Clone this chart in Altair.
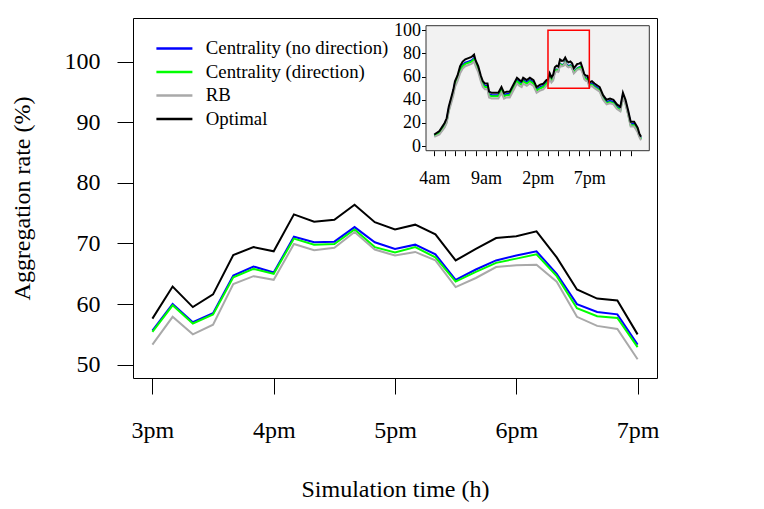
import altair as alt
import pandas as pd

FONT = "Liberation Serif"

# ---------------- data ----------------
series_names = ["Centrality (no direction)", "Centrality (direction)", "RB", "Optimal"]
series_colors = ["#0000FF", "#00FF00", "#A9A9A9", "#000000"]

# main panel: 3pm -> 7pm, every 10 minutes (minutes after 3pm)
main_minutes = [0, 10, 20, 30, 40, 50, 60, 70, 80, 90, 100, 110, 120,
                130, 140, 150, 160, 170, 180, 190, 200, 210, 220, 230, 240]
main_tick_minutes = [0, 60, 120, 180, 240]
main_tick_labels = ["3pm", "4pm", "5pm", "6pm", "7pm"]

main_no_dir = [55.6, 60.0, 57.0, 58.5, 64.7, 66.2, 65.2, 71.1, 70.2, 70.3, 72.7, 70.2, 69.1,
               69.8, 68.2, 64.0, 65.7, 67.2, 68.0, 68.7, 65.0, 60.0, 58.7, 58.3, 53.3]
main_dir = [55.4, 59.8, 56.8, 58.3, 64.4, 65.8, 65.0, 70.8, 69.8, 69.9, 72.3, 69.4, 68.5,
            69.4, 67.7, 63.7, 65.3, 66.8, 67.5, 68.2, 64.6, 59.3, 58.0, 57.7, 52.9]
main_rb = [53.3, 57.9, 55.0, 56.6, 63.3, 64.6, 64.0, 69.9, 68.9, 69.3, 71.9, 69.0, 68.0,
           68.6, 67.2, 62.8, 64.3, 66.1, 66.4, 66.5, 63.7, 57.9, 56.4, 55.9, 50.9]
main_opt = [57.6, 62.9, 59.5, 61.6, 68.1, 69.4, 68.7, 74.8, 73.6, 73.9, 76.4, 73.5, 72.3,
            73.1, 71.5, 67.2, 69.1, 70.9, 71.2, 72.0, 67.7, 62.4, 60.9, 60.6, 55.0]

# inset panel: whole day, hours after 4am
inset_hours_before = [0.0, 0.5, 1.0, 1.2, 1.4, 1.7, 1.85, 2.0, 2.25, 2.5, 2.75, 3.0, 3.3, 3.6,
                      3.85, 4.0, 4.25, 4.5, 4.7, 4.9, 5.15, 5.3, 5.55, 5.85, 6.2, 6.5, 6.75,
                      7.0, 7.3, 7.65, 8.0, 8.25, 8.45, 8.6, 8.95, 9.25, 9.6, 9.9, 10.25,
                      10.55, 10.85]
inset_opt_before = [10, 13, 20, 24, 34, 44, 49, 56, 61, 69, 73, 75, 76, 77, 79, 74, 69, 61, 56,
                    54, 54, 47, 46, 46, 46, 51, 46, 47, 47, 53, 59, 57, 56, 59, 57, 59, 57, 51,
                    53, 54, 57]
inset_nodir_before = [9, 12, 18, 22, 32, 42, 47, 54, 59, 66, 70, 72, 73, 74, 76, 72, 67, 59, 54,
                      52, 52, 45, 44, 44, 44, 49, 44, 45, 45, 51, 57, 55, 54, 57, 55, 57, 55, 49,
                      51, 52, 55]
inset_dir_before = [9, 11, 17, 21, 31, 41, 46, 53, 58, 65, 69, 71, 72, 73, 75, 71, 66, 58, 53,
                    51, 51, 44, 43, 43, 43, 48, 43, 44, 44, 50, 56, 54, 53, 56, 54, 56, 54, 48,
                    50, 51, 54]
inset_rb_before = [8, 10, 16, 20, 30, 39, 44, 51, 56, 63, 67, 69, 70, 71, 73, 69, 64, 56, 51,
                   49, 49, 42, 41, 41, 41, 46, 41, 42, 42, 48, 54, 52, 51, 54, 52, 54, 52, 46,
                   48, 49, 52]

inset_hours_after = [15.25, 15.5, 16.0, 16.33, 16.67, 17.0, 17.33, 17.67, 18.0, 18.25, 18.5,
                     18.75, 19.0, 19.33, 19.67, 19.83, 20.0]
inset_opt_after = [56, 54, 51, 44, 40, 41, 40, 36, 34, 46, 40, 31, 21, 21, 16, 11, 8]
inset_nodir_after = [54, 52, 49, 42, 38, 39, 38, 34, 32, 44, 38, 29, 19, 19, 14, 9, 7]
inset_dir_after = [53, 51, 48, 41, 37, 38, 37, 33, 31, 43, 37, 28, 18, 18, 13, 9, 6]
inset_rb_after = [52, 50, 47, 40, 36, 37, 36, 32, 30, 42, 36, 27, 17, 17, 12, 8, 5]

inset_tick_hours = list(range(20))
inset_label_hours = [0, 5, 10, 15]
inset_tick_labels = ["4am", "9am", "2pm", "7pm"]
inset_y_ticks = [0, 20, 40, 60, 80, 100]

# zoom window drawn on the inset (3pm-7pm, 50-100 %)
zoom_box = {"h": [11], "h_end": [15], "v": [50], "v_end": [100]}

# ---------------- tables ----------------
main_series = [main_no_dir, main_dir, main_rb, main_opt]
rows = []
for name, vals in zip(series_names, main_series):
    for m, v in zip(main_minutes, vals):
        rows.append({"series": name, "t": m, "v": v})
df_main = pd.DataFrame(rows)

inset_before = [inset_nodir_before, inset_dir_before, inset_rb_before, inset_opt_before]
inset_after = [inset_nodir_after, inset_dir_after, inset_rb_after, inset_opt_after]
rows = []
for name, before, mid, after in zip(series_names, inset_before, main_series, inset_after):
    for h, v in zip(inset_hours_before, before):
        rows.append({"series": name, "h": h, "v": v})
    for m, v in zip(main_minutes, mid):
        rows.append({"series": name, "h": 11 + m / 60.0, "v": v})
    for h, v in zip(inset_hours_after, after):
        rows.append({"series": name, "h": h, "v": v})
df_inset = pd.DataFrame(rows)
df_zoom = pd.DataFrame(zoom_box)

# ---------------- main panel ----------------
W, H = 524, 360
main_label_expr = "[" + ",".join("'%s'" % s for s in main_tick_labels) + "][round(datum.value/60)]"

axis_common = dict(domain=False, grid=False, tickColor="black", tickWidth=1,
                   labelFont=FONT, labelColor="black", titleFont=FONT, titleColor="black",
                   titleFontWeight="normal")

mx = alt.X("t:Q",
           scale=alt.Scale(domain=[-9.6, 249.6], nice=False, zero=False),
           axis=alt.Axis(orient="bottom", values=main_tick_minutes, labelExpr=main_label_expr,
                         title="Simulation time (h)", tickSize=16, labelFontSize=24,
                         titleFontSize=24, labelPadding=24, titlePadding=35, **axis_common))
my = alt.Y("v:Q",
           scale=alt.Scale(domain=[47.8, 107.2], nice=False, zero=False),
           axis=alt.Axis(orient="left", values=[50, 60, 70, 80, 90, 100],
                         title="Aggregation rate (%)", tickSize=16, labelFontSize=24,
                         titleFontSize=24, labelPadding=17, titlePadding=30, **axis_common))

color = alt.Color("series:N",
                  scale=alt.Scale(domain=series_names, range=series_colors),
                  legend=alt.Legend(orient="none", legendX=32, legendY=21, title=None,
                                    symbolType="M-3,0H3", symbolSize=144,
                                    symbolStrokeWidth=2.5, labelFont=FONT, labelFontSize=18.8,
                                    labelColor="black", labelOffset=22, rowPadding=3.5,
                                    padding=0, labelLimit=400))

draw_order = [0, 1, 2, 3]
main_layers = []
for i in draw_order:
    main_layers.append(
        alt.Chart(df_main).transform_filter(alt.datum.series == series_names[i])
        .mark_line(strokeWidth=2, clip=True)
        .encode(x=mx, y=my, color=color)
    )
main = alt.layer(*main_layers)

# ---------------- inset ----------------
IX0, IX1 = 293.0, 516.3
IY0, IY1 = 7.7, 132.7
inset_label_expr = ("indexof(" + str(inset_label_hours) + ", datum.value) >= 0 ? "
                    + "[" + ",".join("'%s'" % s for s in inset_tick_labels) + "]"
                    + "[indexof(" + str(inset_label_hours) + ", datum.value)] : ''")

ix = alt.X("h:Q",
           scale=alt.Scale(domain=[-0.8, 20.8], range=[IX0, IX1], nice=False, zero=False),
           axis=alt.Axis(orient="bottom", offset=-(H - IY1), values=inset_tick_hours,
                         labelExpr=inset_label_expr, labelOverlap=False, title=None,
                         tickSize=5, labelFontSize=18, labelPadding=14, **axis_common))
iy = alt.Y("v:Q",
           scale=alt.Scale(domain=[-4, 104], range=[IY1, IY0], nice=False, zero=False),
           axis=alt.Axis(orient="left", offset=-IX0, values=inset_y_ticks, title=None,
                         tickSize=4.5, labelFontSize=18, labelPadding=1, **axis_common))

inset_bg = alt.Chart(df_zoom).mark_rect(fill="#F2F2F2", stroke="#333333", strokeWidth=1).encode(
    x=alt.value(IX0), x2=alt.value(IX1), y=alt.value(IY0), y2=alt.value(IY1))

inset_layers = [inset_bg]
for i in draw_order:
    inset_layers.append(
        alt.Chart(df_inset).transform_filter(alt.datum.series == series_names[i])
        .mark_line(strokeWidth=2, color=series_colors[i])
        .encode(x=ix, y=iy)
    )
zoom_rect = alt.Chart(df_zoom).mark_rect(fill=None, stroke="#FF0000", strokeWidth=1.5).encode(
    x=ix, x2="h_end:Q", y=iy, y2="v_end:Q")
inset_layers.append(zoom_rect)
inset = alt.layer(*inset_layers)

chart = (
    alt.layer(main, inset)
    .resolve_scale(x="independent", y="independent")
    .resolve_axis(x="independent", y="independent")
    .properties(width=W, height=H, autosize=alt.AutoSizeParams(type="none"),
                padding={"left": 125, "top": 10, "right": 90, "bottom": 124},
                background="white")
    .configure_view(stroke="black", strokeWidth=1)
)

chart.save("out.html", embed_options={"renderer": "svg", "actions": False})
